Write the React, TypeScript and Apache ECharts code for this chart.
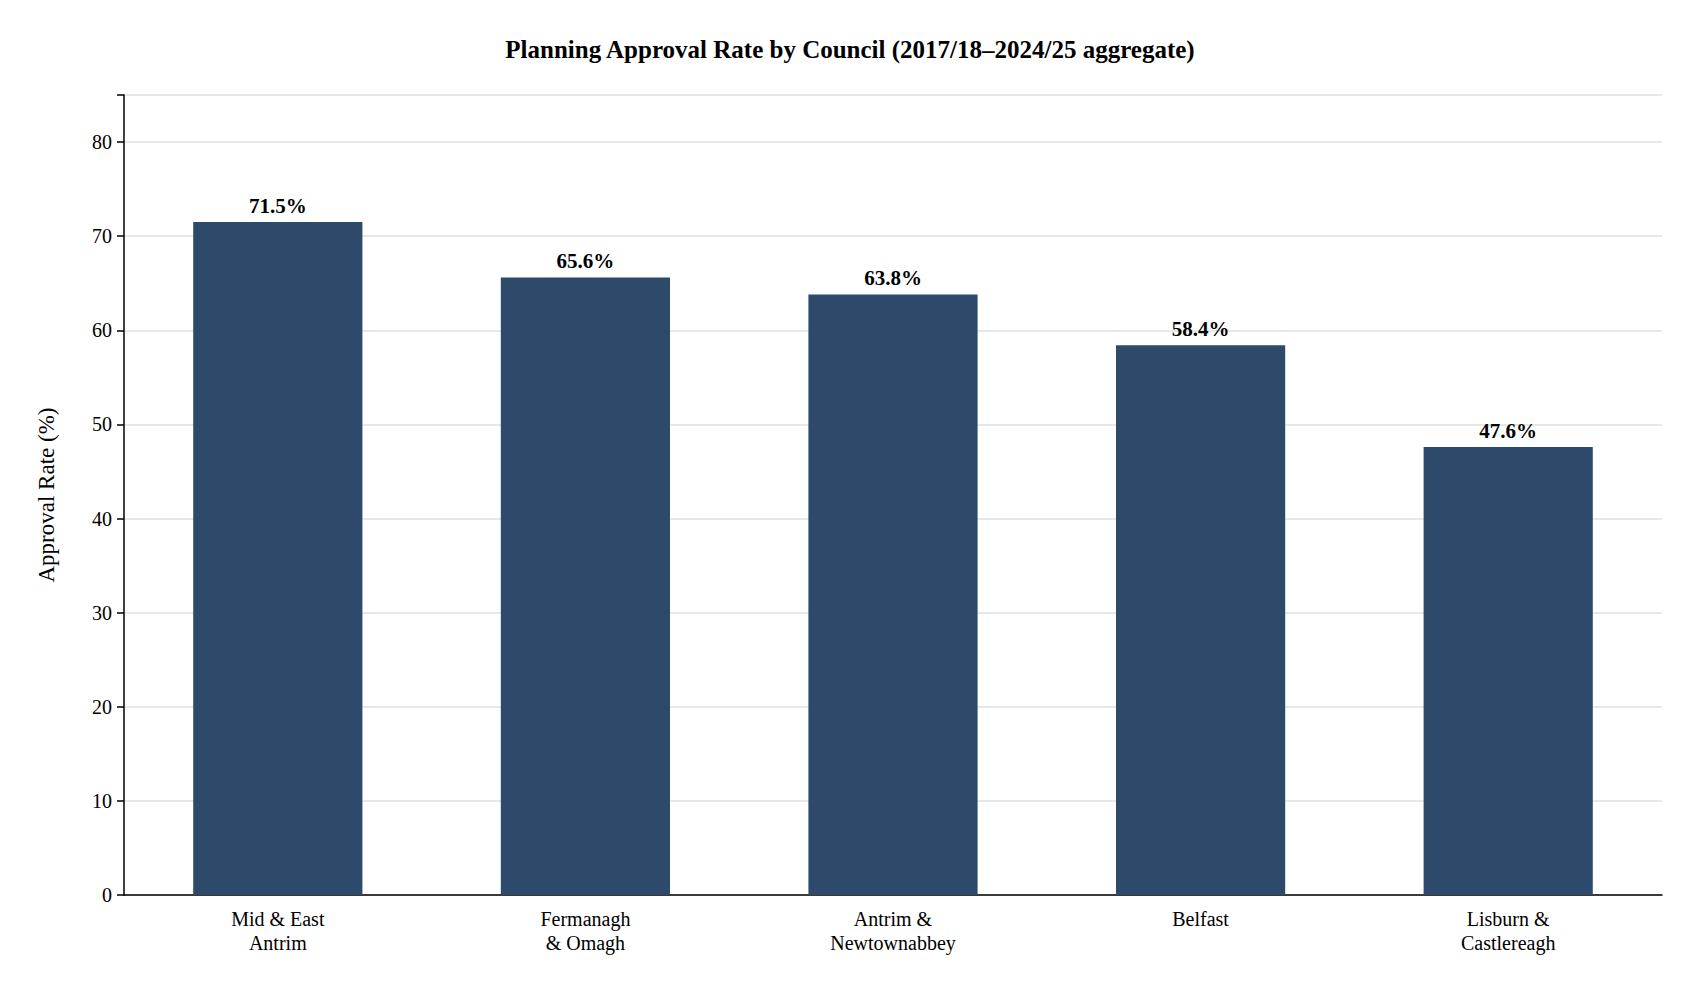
import { useEffect, useRef } from "react";
import * as echarts from "echarts";

const councils = [
  "Mid & East\nAntrim",
  "Fermanagh\n& Omagh",
  "Antrim &\nNewtownabbey",
  "Belfast",
  "Lisburn &\nCastlereagh",
];
const approvalRates = [71.5, 65.6, 63.8, 58.4, 47.6];

const font = "'Liberation Serif', 'Times New Roman', serif";

export default function App() {
  const ref = useRef<HTMLDivElement | null>(null);

  useEffect(() => {
    if (!ref.current) return;
    const chart = echarts.init(ref.current, null, { renderer: "svg" });
    chart.setOption({
      animation: false,
      textStyle: { fontFamily: font },
      title: {
        text: "Planning Approval Rate by Council (2017/18\u20132024/25 aggregate)",
        left: "center",
        top: 24,
        textStyle: { fontFamily: font, fontSize: 25, fontWeight: "bold", color: "#000" },
      },
      grid: { left: 116, right: 30, top: 87, bottom: 97 },
      xAxis: {
        type: "category",
        data: councils,
        axisLine: { lineStyle: { color: "#000", width: 1.5 } },
        axisTick: { alignWithLabel: true, length: 7, lineStyle: { color: "#000", width: 1.5 } },
        axisLabel: { color: "#000", fontSize: 20, lineHeight: 24, margin: 12, fontFamily: font },
      },
      yAxis: {
        type: "value",
        min: 0,
        max: 85,
        interval: 10,
        name: "Approval Rate (%)",
        nameLocation: "middle",
        nameGap: 66,
        nameTextStyle: { color: "#000", fontSize: 23, fontFamily: font },
        axisLine: { show: true, lineStyle: { color: "#000", width: 1.5 } },
        axisTick: { show: true, length: 7, lineStyle: { color: "#000", width: 1.5 } },
        axisLabel: {
          color: "#000",
          fontSize: 20,
          margin: 12,
          fontFamily: font,
          formatter: (v: number) => (v > 80 ? "" : String(v)),
        },
        splitLine: { lineStyle: { color: "#e0e0e0", width: 1.5 } },
      },
      series: [
        {
          type: "bar",
          data: approvalRates,
          barWidth: "55%",
          itemStyle: { color: "#2d4a6b" },
          label: {
            show: true,
            position: "top",
            distance: 6,
            formatter: (p: any) => p.value.toFixed(1) + "%",
            color: "#000",
            fontSize: 21,
            fontWeight: "bold",
            fontFamily: font,
          },
        },
      ],
    });
    return () => chart.dispose();
  }, []);

  return <div ref={ref} style={{ width: 1684, height: 984 }} />;
}
